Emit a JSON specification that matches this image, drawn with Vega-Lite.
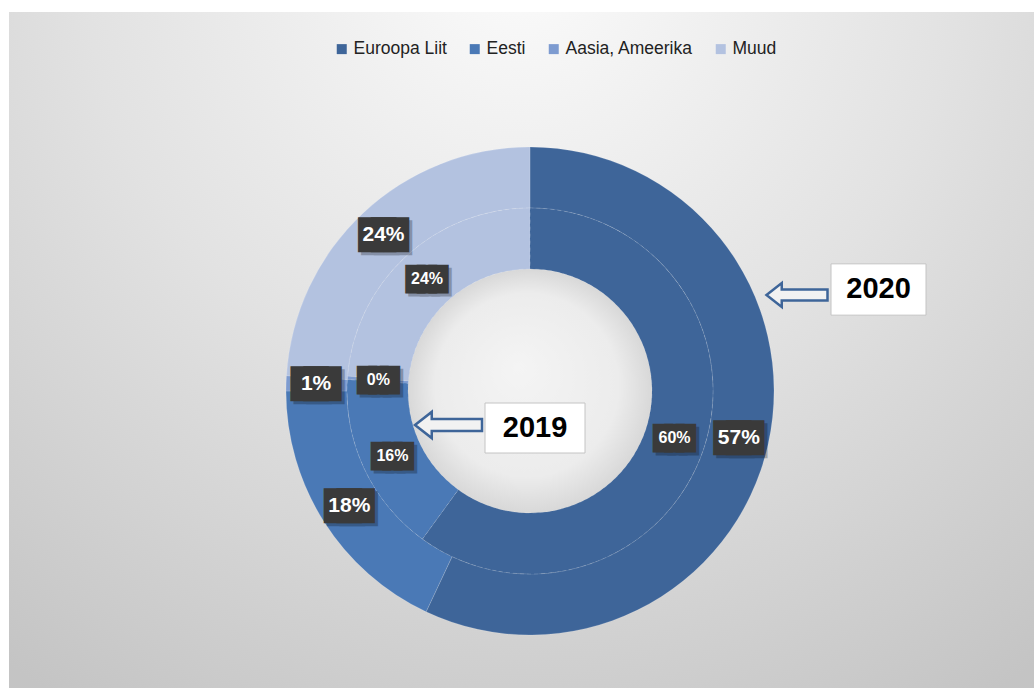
{
  "$schema": "https://vega.github.io/schema/vega-lite/v6.json",
  "width": 1034,
  "height": 688,
  "autosize": {"type": "fit", "contains": "padding"},
  "padding": {"left": 9, "top": 12, "right": 0, "bottom": 0},
  "background": "#ffffff",
  "config": {"view": {"stroke": null}, "font": "Liberation Sans"},
  "datasets": {
    "shares": [
      {"year": "2020", "region": "Euroopa Liit", "rank": 1, "share": 57},
      {"year": "2020", "region": "Eesti", "rank": 2, "share": 18},
      {"year": "2020", "region": "Aasia, Ameerika", "rank": 3, "share": 1},
      {"year": "2020", "region": "Muud", "rank": 4, "share": 24},
      {"year": "2019", "region": "Euroopa Liit", "rank": 1, "share": 60},
      {"year": "2019", "region": "Eesti", "rank": 2, "share": 16},
      {"year": "2019", "region": "Aasia, Ameerika", "rank": 3, "share": 0.3},
      {"year": "2019", "region": "Muud", "rank": 4, "share": 23.7}
    ]
  },
  "layer": [
    {
      "data": {"values": [{}]},
      "mark": {
        "type": "rect",
        "fill": {
          "gradient": "radial",
          "x1": 0.5, "y1": 0.12, "r1": 0,
          "x2": 0.5, "y2": 0.12, "r2": 0.85,
          "stops": [
            {"offset": 0, "color": "#fbfbfb"},
            {"offset": 0.5, "color": "#e2e2e2"},
            {"offset": 1, "color": "#c4c4c4"}
          ]
        }
      },
      "encoding": {}
    },
    {
      "data": {"values": [{}]},
      "mark": {
        "type": "arc",
        "radius": 122,
        "theta": 0,
        "theta2": 6.2832,
        "xOffset": 8.5,
        "yOffset": 41,
        "fill": {
          "gradient": "radial",
          "x1": 0.45, "y1": 0.4, "r1": 0,
          "x2": 0.5, "y2": 0.5, "r2": 0.5,
          "stops": [
            {"offset": 0, "color": "#f4f4f4"},
            {"offset": 0.75, "color": "#ececec"},
            {"offset": 1, "color": "#d8d8d8"}
          ]
        }
      },
      "encoding": {}
    },
    {
      "data": {"name": "shares"},
      "transform": [{"filter": "datum.year === '2020'"}],
      "mark": {"type": "arc", "radius": 244, "radius2": 183, "xOffset": 8.5, "yOffset": 41, "stroke": "#ffffff", "strokeOpacity": 0.15, "strokeWidth": 1},
      "encoding": {
        "theta": {"field": "share", "type": "quantitative", "stack": true, "scale": {"domain": [0, 100]}},
        "order": {"field": "rank", "type": "quantitative"},
        "color": {
          "field": "region",
          "type": "nominal",
          "scale": {"domain": ["Euroopa Liit", "Eesti", "Aasia, Ameerika", "Muud"], "range": ["#3e6599", "#4a79b6", "#7d9bd0", "#b3c2e0"]},
          "legend": {
            "title": null,
            "orient": "none",
            "legendX": 324,
            "legendY": 28,
            "direction": "horizontal",
            "symbolType": "square",
            "symbolSize": 100,
            "symbolStrokeWidth": 0,
            "labelFont": "Liberation Sans",
            "labelFontSize": 17.5,
            "labelColor": "#222222",
            "labelOffset": 3,
            "columnPadding": 19
          }
        }
      }
    },
    {
      "data": {"name": "shares"},
      "transform": [{"filter": "datum.year === '2019'"}],
      "mark": {"type": "arc", "radius": 183, "radius2": 122, "xOffset": 8.5, "yOffset": 41, "stroke": "#ffffff", "strokeOpacity": 0.15, "strokeWidth": 1, "strokeDash": [4, 3]},
      "encoding": {
        "theta": {"field": "share", "type": "quantitative", "stack": true, "scale": {"domain": [0, 100]}},
        "order": {"field": "rank", "type": "quantitative"},
        "color": {"field": "region", "type": "nominal"}
      }
    },
    {
      "data": {"name": "shares"},
      "transform": [{"filter": "datum.year === '2020'"}],
      "mark": {"type": "text", "radius": 214, "xOffset": 8.5, "yOffset": 41, "dx": 3, "dy": 3, "font": "Liberation Sans", "fontSize": 18, "fill": "#000000", "stroke": "#000000", "strokeWidth": 13, "strokeJoin": "miter", "opacity": 0.25, "align": "center", "baseline": "middle", "text": "\u2588\u2588\u2588"},
      "encoding": {
        "theta": {"field": "share", "type": "quantitative", "stack": true},
        "order": {"field": "rank", "type": "quantitative"},
        "detail": {"field": "region"}
      }
    },
    {
      "data": {"name": "shares"},
      "transform": [{"filter": "datum.year === '2019'"}],
      "mark": {"type": "text", "radius": 152, "xOffset": 8.5, "yOffset": 41, "dx": 3, "dy": 3, "font": "Liberation Sans", "fontSize": 16.2, "fill": "#000000", "stroke": "#000000", "strokeWidth": 9, "strokeJoin": "miter", "opacity": 0.25, "align": "center", "baseline": "middle", "text": "\u2588\u2588\u2588"},
      "encoding": {
        "theta": {"field": "share", "type": "quantitative", "stack": true},
        "order": {"field": "rank", "type": "quantitative"},
        "detail": {"field": "region"}
      }
    },
    {
      "data": {"name": "shares"},
      "transform": [{"filter": "datum.year === '2020'"}],
      "mark": {"type": "text", "radius": 214, "xOffset": 8.5, "yOffset": 41, "font": "Liberation Sans", "fontSize": 18, "fill": "#3a3a3a", "stroke": "#3a3a3a", "strokeWidth": 13, "strokeJoin": "miter", "align": "center", "baseline": "middle", "text": "\u2588\u2588\u2588"},
      "encoding": {
        "theta": {"field": "share", "type": "quantitative", "stack": true},
        "order": {"field": "rank", "type": "quantitative"},
        "detail": {"field": "region"}
      }
    },
    {
      "data": {"name": "shares"},
      "transform": [{"filter": "datum.year === '2019'"}],
      "mark": {"type": "text", "radius": 152, "xOffset": 8.5, "yOffset": 41, "font": "Liberation Sans", "fontSize": 16.2, "fill": "#3a3a3a", "stroke": "#3a3a3a", "strokeWidth": 9, "strokeJoin": "miter", "align": "center", "baseline": "middle", "text": "\u2588\u2588\u2588"},
      "encoding": {
        "theta": {"field": "share", "type": "quantitative", "stack": true},
        "order": {"field": "rank", "type": "quantitative"},
        "detail": {"field": "region"}
      }
    },
    {
      "data": {"name": "shares"},
      "transform": [
        {"filter": "datum.year === '2020'"},
        {"calculate": "format(datum.share, '.0f') + '%'", "as": "label"}
      ],
      "mark": {"type": "text", "radius": 214, "xOffset": 8.5, "yOffset": 41, "font": "Liberation Sans", "fontSize": 21, "fontWeight": "bold", "fill": "#ffffff", "align": "center", "baseline": "middle"},
      "encoding": {
        "theta": {"field": "share", "type": "quantitative", "stack": true},
        "order": {"field": "rank", "type": "quantitative"},
        "detail": {"field": "region"},
        "text": {"field": "label"}
      }
    },
    {
      "data": {"name": "shares"},
      "transform": [
        {"filter": "datum.year === '2019'"},
        {"calculate": "format(datum.share, '.0f') + '%'", "as": "label"}
      ],
      "mark": {"type": "text", "radius": 152, "xOffset": 8.5, "yOffset": 41, "font": "Liberation Sans", "fontSize": 16, "fontWeight": "bold", "fill": "#ffffff", "align": "center", "baseline": "middle"},
      "encoding": {
        "theta": {"field": "share", "type": "quantitative", "stack": true},
        "order": {"field": "rank", "type": "quantitative"},
        "detail": {"field": "region"},
        "text": {"field": "label"}
      }
    },
    {
      "data": {"values": [{"year": "2020"}]},
      "mark": {"type": "point", "shape": "M -1 -0.54 L 1 -0.54 L 1 0.54 L -1 0.54 Z", "size": 9025, "filled": true, "opacity": 1, "fill": "#ffffff", "stroke": "#c4c4c4", "strokeWidth": 1, "xOffset": 357, "yOffset": -60.5},
      "encoding": {}
    },
    {
      "data": {"values": [{"year": "2020"}]},
      "mark": {"type": "text", "font": "Liberation Sans", "fontSize": 29, "fontWeight": "bold", "fill": "#000000", "align": "center", "baseline": "middle", "xOffset": 357, "yOffset": -61},
      "encoding": {"text": {"field": "year"}}
    },
    {
      "data": {"values": [{"year": "2020"}]},
      "mark": {"type": "point", "shape": "M -1 0 L -0.5 -0.39 L -0.5 -0.18 L 1 -0.18 L 1 0.18 L -0.5 0.18 L -0.5 0.39 Z", "size": 3721, "filled": true, "opacity": 1, "fill": "#f2f2f2", "stroke": "#3e6599", "strokeWidth": 2.5, "xOffset": 275.5, "yOffset": -55},
      "encoding": {}
    },
    {
      "data": {"values": [{"year": "2019"}]},
      "mark": {"type": "point", "shape": "M -1 -0.5 L 1 -0.5 L 1 0.5 L -1 0.5 Z", "size": 10000, "filled": true, "opacity": 1, "fill": "#ffffff", "stroke": "#c4c4c4", "strokeWidth": 1, "xOffset": 13.5, "yOffset": 78},
      "encoding": {}
    },
    {
      "data": {"values": [{"year": "2019"}]},
      "mark": {"type": "text", "font": "Liberation Sans", "fontSize": 29, "fontWeight": "bold", "fill": "#000000", "align": "center", "baseline": "middle", "xOffset": 13.5, "yOffset": 77.5},
      "encoding": {"text": {"field": "year"}}
    },
    {
      "data": {"values": [{"year": "2019"}]},
      "mark": {"type": "point", "shape": "M -1 0 L -0.5 -0.39 L -0.5 -0.18 L 1 -0.18 L 1 0.18 L -0.5 0.18 L -0.5 0.39 Z", "size": 4489, "filled": true, "opacity": 1, "fill": "#f2f2f2", "stroke": "#3e6599", "strokeWidth": 2.5, "xOffset": -73, "yOffset": 75},
      "encoding": {}
    }
  ]
}
